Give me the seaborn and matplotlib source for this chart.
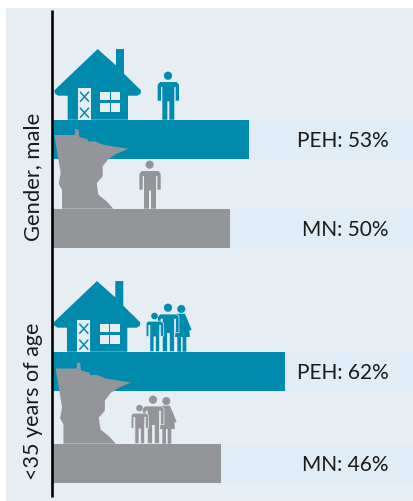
import matplotlib
matplotlib.use("Agg")
import matplotlib.pyplot as plt
from matplotlib.patches import Circle, Polygon, Rectangle
import pandas as pd
import seaborn as sns

gender_groups = ["PEH", "MN"]
gender_lengths = [53.2, 48.1]
gender_labels = ["53%", "50%"]
age_groups = ["PEH", "MN"]
age_lengths = [63.0, 45.7]
age_labels = ["62%", "46%"]

TEAL = "#008BAE"
GREY = "#939598"
PANEL = "#E6EEF4"
BAND = "#E0EDF6"
TEXT = "#1A1A1A"
W, H = 413, 502
PX_PER_UNIT = 3.7

sns.set_theme(style="white")
plt.rcParams["font.family"] = ["Lato", "DejaVu Sans"]

fig = plt.figure(figsize=(W / 100, H / 100), dpi=100, facecolor="white")
fig.add_artist(Rectangle((6 / W, 0), 1, 1 - 9 / H, transform=fig.transFigure, color=PANEL, lw=0, zorder=-1))


def draw_group(groups, lengths, labels, center0, center1):
    # one axes per group, placed in pixels so bars land on the right rows
    pad = 30
    top, bottom = center0 - pad, center1 + pad
    ax = fig.add_axes([52 / W, 1 - bottom / H, (W - 52) / W, (bottom - top) / H])
    spacing = center1 - center0
    df = pd.DataFrame({"group": groups, "value": lengths})
    for i in range(2):
        ax.axhspan(i - 19.5 / spacing + 1 / spacing, i + 19.5 / spacing + 1 / spacing, color=BAND, lw=0, zorder=0)
    sns.barplot(data=df, x="value", y="group", hue="group", palette=[TEAL, GREY], legend=False,
                width=39 / spacing, saturation=1, linewidth=0, ax=ax, zorder=2)
    ax.set_xlim(0, (W - 52) / PX_PER_UNIT)
    ax.set_ylim(1 + pad / spacing, -pad / spacing)
    ax.axis("off")
    for i, (g, lab) in enumerate(zip(groups, labels)):
        ax.text((389 - 52) / PX_PER_UNIT, i + 1 / spacing, f"{g}: {lab}", ha="right", va="center",
                fontsize=15, color=TEXT)


draw_group(gender_groups, gender_lengths, gender_labels, 140.2, 229.2)
draw_group(age_groups, age_lengths, age_labels, 372.2, 464.2)

# overlay in pixel coordinates for the icons
ov = fig.add_axes([0, 0, 1, 1])
ov.set_xlim(0, W)
ov.set_ylim(H, 0)
ov.axis("off")

# outlines, in 3x zoom units
house_shape = [(293, 148), (163, 272), (165, 282), (175, 288), (203, 288), (203, 360), (384, 360), (384, 288),
               (412, 288), (422, 282), (423, 272), (372, 222), (372, 148), (348, 148), (348, 197)]
state_shape = [(163, 406), (225, 406), (226, 388), (235, 390), (238, 412), (262, 418), (265, 425), (285, 425),
               (310, 435), (340, 440), (385, 447), (350, 462), (325, 478), (308, 500), (308, 530), (290, 550),
               (295, 585), (320, 605), (340, 627), (186, 627), (186, 570), (176, 552), (182, 520), (172, 460)]
man_shape = [(-24, 19), (26, 19), (33, 27), (33, 75), (23, 75), (23, 34), (19, 34), (19, 132), (4, 132), (4, 77),
             (-2, 77), (-2, 132), (-17, 132), (-17, 34), (-21, 34), (-21, 75), (-31, 75), (-31, 27)]
woman_shape = [(-14, 14), (11, 14), (31, 62), (24, 65), (26, 84), (15, 84), (15, 128), (4, 128), (4, 84), (-1, 84),
               (-1, 128), (-12, 128), (-12, 84), (-19, 84), (-14, 40)]


def house(dx, dy):
    pts = [(x / 3 + dx, y / 3 + dy) for x, y in house_shape]
    ov.add_patch(Polygon(pts, color=TEAL, lw=0))
    ov.add_patch(Rectangle((78 + dx, 88.5 + dy), 13, 31.5, color=PANEL, lw=0))
    for yc in (97, 113):
        ov.plot([80 + dx, 89 + dx], [yc - 5 + dy, yc + 5 + dy], color=TEAL, lw=1.1, solid_capstyle="butt")
        ov.plot([80 + dx, 89 + dx], [yc + 5 + dy, yc - 5 + dy], color=TEAL, lw=1.1, solid_capstyle="butt")
    for wx in (100.3, 111):
        for wy in (92, 103.3):
            ov.add_patch(Rectangle((wx + dx, wy + dy), 9.2, 8.6, color=PANEL, lw=0))


def state(dx, dy, scale=1.0):
    pts = [(51 + (x / 3 - 51) * scale + dx, 209 + (y / 3 - 209) * scale + dy) for x, y in state_shape]
    ov.add_patch(Polygon(pts, color=GREY, lw=0, zorder=3))


def man(cx, foot, color, scale=1.0, edge=None):
    pts = [(cx + x / 3 * scale, foot + (y - 132) / 3 * scale) for x, y in man_shape]
    ov.add_patch(Polygon(pts, facecolor=color, edgecolor=edge or color, lw=0.5 if edge else 0))
    ov.add_patch(Circle((cx, foot - 44 * scale), 4.1 * scale, color=color, lw=0))


def woman(cx, foot, color):
    pts = [(cx + x / 3, foot + (y - 128) / 3) for x, y in woman_shape]
    ov.add_patch(Polygon(pts, facecolor=color, edgecolor=color, lw=0))
    ov.add_patch(Circle((cx, foot - 42.7), 4, color=color, lw=0))


def family(dx, dy, color):
    woman(181.3 + dx, 352.7 + dy, color)
    man(168 + dx, 352.7 + dy, color, edge=PANEL)
    man(154.5 + dx, 352.7 + dy, color, scale=0.81, edge=PANEL)


house(0, 0.7)
man(168, 120.7, TEAL)
state(0, 0.7)
man(149.7, 209.7, GREY)

house(-0.7, 232.7)
family(0, 0, TEAL)
state(1.2, 235.7, 1.02)
family(-15, 92, GREY)

# axis line and row titles
ov.plot([51.5, 51.5], [11, 498], color="black", lw=1.9, zorder=6, solid_capstyle="butt")
ov.text(33.5, 176.5, "Gender, male", rotation=90, ha="center", va="center", fontsize=15.8, color=TEXT)
ov.text(33.5, 401, "<35 years of age", rotation=90, ha="center", va="center", fontsize=15.5, color=TEXT)

fig.savefig("out.png", dpi=100)
